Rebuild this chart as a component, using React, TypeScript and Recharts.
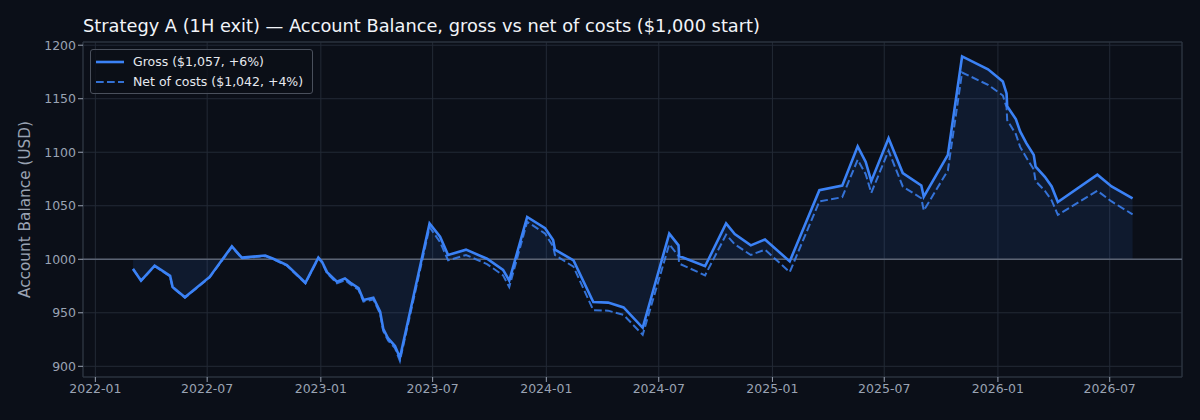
import React from "react";
import {
  ComposedChart,
  Area,
  Line,
  XAxis,
  YAxis,
  CartesianGrid,
  ReferenceLine,
  ReferenceArea,
} from "recharts";

// trade close dates (UTC) and account balance after each trade
const DATES = [
  "2022-03-03", "2022-03-16", "2022-04-07", "2022-05-02", "2022-05-06", "2022-05-26",
  "2022-07-05", "2022-08-10", "2022-08-26", "2022-10-03", "2022-10-16", "2022-11-07",
  "2022-12-07", "2022-12-28", "2023-01-03", "2023-01-11", "2023-01-27", "2023-02-09",
  "2023-02-18", "2023-03-03", "2023-03-11", "2023-03-27", "2023-04-07", "2023-04-12",
  "2023-04-20", "2023-05-01", "2023-05-09", "2023-06-26", "2023-07-13", "2023-07-26",
  "2023-08-24", "2023-09-27", "2023-10-23", "2023-11-02", "2023-12-01", "2023-12-30",
  "2024-01-12", "2024-01-15", "2024-02-14", "2024-03-17", "2024-04-10", "2024-05-05",
  "2024-06-05", "2024-07-18", "2024-08-02", "2024-08-03", "2024-09-14", "2024-10-18",
  "2024-11-01", "2024-11-27", "2024-12-20", "2025-01-29", "2025-03-18", "2025-04-24",
  "2025-05-19", "2025-06-01", "2025-06-10", "2025-07-08", "2025-07-31", "2025-08-30",
  "2025-09-03", "2025-10-12", "2025-11-04", "2025-12-16", "2026-01-09", "2026-01-15",
  "2026-01-16", "2026-01-30", "2026-02-06", "2026-02-16", "2026-02-28", "2026-03-03",
  "2026-03-18", "2026-03-29", "2026-04-08", "2026-06-11", "2026-07-04", "2026-08-07",
];

const GROSS = [
  991, 980, 994, 984.5, 974, 964.5,
  983.5, 1012, 1001.5, 1003.5, 1000.5, 994.5,
  978, 1001.5, 997.5, 988, 979, 982,
  978, 973, 962, 964, 951, 935,
  926, 919, 908, 1033.5, 1021, 1004,
  1009, 1000.5, 990, 980, 1039.5, 1029,
  1018, 1009, 999, 960, 959.5, 955,
  936, 1024, 1013, 1003, 993.5, 1033.5,
  1023.5, 1013, 1018.5, 998, 1064.5, 1068.8,
  1105.5, 1091, 1073, 1113, 1080.5, 1069,
  1058.5, 1097.5, 1189.5, 1177.5, 1166, 1155,
  1143, 1131, 1119.5, 1108.5, 1097.5, 1086.5,
  1077, 1068, 1053.5, 1079, 1068, 1057,
];

const NET = [
  991, 980, 993.5, 984, 973.5, 964,
  983, 1011.5, 1001, 1003, 1000, 994,
  977.5, 1001, 997, 987, 977.5, 980.5,
  976.5, 971.5, 960.5, 962.5, 949, 933,
  924, 917, 905, 1030, 1016, 999,
  1004, 995.5, 985, 974, 1035, 1024,
  1012, 1004, 993, 952.5, 952, 948,
  929.5, 1014, 1003, 996, 985, 1023,
  1014, 1004, 1009, 988, 1054, 1058,
  1093, 1079.5, 1062, 1101.5, 1068, 1057,
  1045.5, 1083, 1174.5, 1163, 1153, 1142,
  1130, 1117, 1105, 1095, 1084, 1073,
  1064, 1055, 1041.5, 1064, 1054, 1042,
];

const X_TICKS = [
  "2022-01-01", "2022-07-01", "2023-01-01", "2023-07-01", "2024-01-01",
  "2024-07-01", "2025-01-01", "2025-07-01", "2026-01-01", "2026-07-01",
];
const Y_TICKS = [900, 950, 1000, 1050, 1100, 1150, 1200];

const toTs = (d: string) => Date.parse(d + "T00:00:00Z");

const data = DATES.map((d, i) => ({ t: toTs(d), gross: GROSS[i], net: NET[i] }));

const X_MIN = toTs("2021-12-12");
const X_MAX = toTs("2026-10-26");
const Y_MIN = 890;
const Y_MAX = 1203;

const BG = "#0b0f18";
const BLUE = "#3b82f6";
const GRID = "#232a36";
const TEXT = "#9aa3b3";
const FONT = "'DejaVu Sans', sans-serif";

const fmtMonth = (t: number) => new Date(t).toISOString().slice(0, 7);

const LegendBox = () => (
  <div
    style={{
      position: "absolute",
      left: 90,
      top: 49,
      width: 221,
      height: 43,
      border: "1px solid #4a505c",
      borderRadius: 3,
      background: "rgba(11,15,24,0.8)",
      fontFamily: FONT,
      fontSize: 12.5,
      color: "#e6e9ef",
    }}
  >
    <div style={{ position: "absolute", left: 4, top: 3, display: "flex", alignItems: "center", height: 17 }}>
      <svg width={30} height={6}>
        <line x1={1} y1={3} x2={29} y2={3} stroke={BLUE} strokeWidth={2.6} />
      </svg>
      <span style={{ marginLeft: 8, whiteSpace: "nowrap" }}>Gross ($1,057, +6%)</span>
    </div>
    <div style={{ position: "absolute", left: 4, top: 23, display: "flex", alignItems: "center", height: 17 }}>
      <svg width={30} height={6}>
        <line x1={1} y1={3} x2={29} y2={3} stroke={BLUE} strokeOpacity={0.85} strokeWidth={2} strokeDasharray="7.7 3.3" />
      </svg>
      <span style={{ marginLeft: 8, whiteSpace: "nowrap" }}>Net of costs ($1,042, +4%)</span>
    </div>
  </div>
);

export default function App() {
  return (
    <div
      style={{
        position: "fixed",
        left: 0,
        top: 0,
        width: 1200,
        height: 420,
        background: BG,
        fontFamily: FONT,
      }}
    >
      {/* Title */}
      <div
        style={{
          position: "absolute",
          left: 83,
          top: 16,
          fontSize: 17.8,
          lineHeight: "20px",
          color: "#f2f4f8",
          whiteSpace: "nowrap",
        }}
      >
        Strategy A (1H exit) — Account Balance, gross vs net of costs ($1,000 start)
      </div>

      <ComposedChart
        width={1200}
        height={420}
        data={data}
        margin={{ top: 42, right: 18, bottom: 12, left: 0 }}
      >
        <CartesianGrid stroke={GRID} strokeWidth={1} />
        <XAxis
          dataKey="t"
          type="number"
          domain={[X_MIN, X_MAX]}
          allowDataOverflow
          ticks={X_TICKS.map(toTs)}
          tickFormatter={fmtMonth}
          height={31}
          axisLine={false}
          tickLine={{ stroke: TEXT }}
          tickSize={5}
          tick={{ fill: TEXT, fontSize: 12.5, fontFamily: FONT }}
        />
        <YAxis
          type="number"
          domain={[Y_MIN, Y_MAX]}
          allowDataOverflow
          ticks={Y_TICKS}
          width={83}
          axisLine={false}
          tickLine={{ stroke: TEXT }}
          tickSize={5}
          tick={{ fill: TEXT, fontSize: 12.5, fontFamily: FONT }}
          label={{
            value: "Account Balance (USD)",
            angle: -90,
            position: "insideLeft",
            offset: 25,
            style: { textAnchor: "middle", fill: TEXT, fontSize: 15.3, fontFamily: FONT },
          }}
        />
        <ReferenceArea
          x1={X_MIN}
          x2={X_MAX}
          y1={Y_MIN}
          y2={Y_MAX}
          fill="none"
          stroke="#2f3643"
          strokeWidth={1}
          ifOverflow="visible"
        />
        <Area
          type="linear"
          dataKey="gross"
          baseValue={1000}
          stroke="none"
          fill={BLUE}
          fillOpacity={0.1}
          isAnimationActive={false}
        />
        <ReferenceLine y={1000} stroke="#5b6373" strokeWidth={1.4} />
        <Line
          type="linear"
          dataKey="net"
          stroke={BLUE}
          strokeOpacity={0.85}
          strokeWidth={2}
          strokeDasharray="7.7 3.3"
          dot={false}
          isAnimationActive={false}
        />
        <Line
          type="linear"
          dataKey="gross"
          stroke={BLUE}
          strokeWidth={2.6}
          dot={false}
          isAnimationActive={false}
        />
      </ComposedChart>

      <LegendBox />
    </div>
  );
}
